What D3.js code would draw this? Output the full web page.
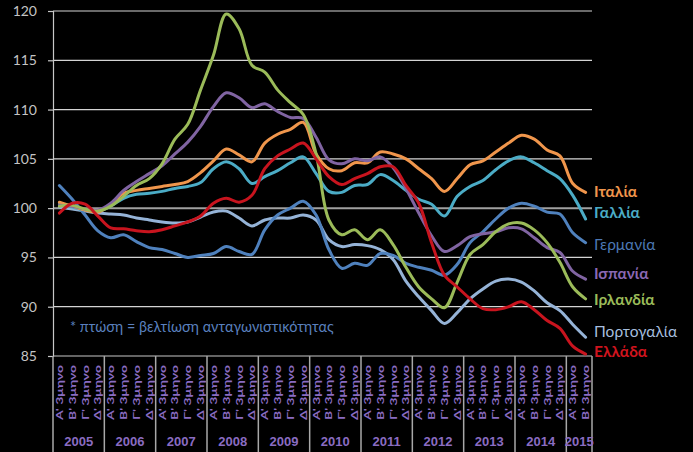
<!DOCTYPE html>
<html>
<head>
<meta charset="utf-8">
<script src="https://cdn.jsdelivr.net/npm/d3@7"></script>
<style>
  html, body { margin: 0; padding: 0; background: #000; }
  svg { display: block; }
</style>
</head>
<body>
<svg id="chart" width="693" height="452"></svg>
<script>
// ---------- DATA ----------
const years = ["2005","2006","2007","2008","2009","2010","2011","2012","2013","2014","2015"];
const quarterNames = ["Α' 3μηνο","Β' 3μηνο","Γ' 3μηνο","Δ' 3μηνο"];
const yTicks = [85, 90, 95, 100, 105, 110, 115, 120];
const note = "* πτώση = βελτίωση ανταγωνιστικότητας";

const seriesNames = ["Πορτογαλία","Γερμανία","Γαλλία","Ιταλία","Ισπανία","Ιρλανδία","Ελλάδα"];

const italy = [100.6,100.2,99.8,99.6,100.4,101.5,101.8,102.0,102.2,102.4,102.7,103.6,104.8,106.0,105.4,104.7,106.6,107.5,108.0,108.7,105.5,104.0,103.8,104.6,104.6,105.7,105.5,105.0,104.0,103.0,101.7,103.0,104.4,104.8,105.7,106.6,107.4,107.0,105.9,105.3,102.5,101.6];
const france = [100.4,100.1,99.8,99.7,100.2,101.0,101.4,101.5,101.7,102.0,102.2,102.6,104.0,104.7,104.0,102.5,103.2,103.8,104.6,105.2,103.5,101.7,101.6,102.3,102.4,103.4,102.8,101.8,100.9,100.4,99.2,101.2,102.2,102.8,103.9,104.8,105.2,104.6,103.8,103.0,101.3,98.9];
const germany = [102.3,100.9,99.3,97.7,97.0,97.3,96.6,96.0,95.8,95.4,95.0,95.2,95.4,96.1,95.6,95.3,97.8,99.3,100.0,100.7,99.3,95.8,93.9,94.4,94.2,95.4,95.2,94.4,94.0,93.7,93.2,94.3,96.5,97.6,98.9,100.0,100.5,100.2,99.6,99.4,97.5,96.5];
const spain = [100.3,100.2,99.9,99.8,100.5,101.8,102.7,103.5,104.3,105.5,106.7,108.3,110.3,111.7,111.2,110.2,110.6,109.8,109.2,109.1,107.2,104.9,104.5,105.0,104.8,105.2,104.1,102.0,99.5,97.2,95.6,96.2,97.1,97.4,97.6,98.0,97.9,97.0,96.0,95.5,93.6,92.8];
const ireland = [100.2,100.3,99.9,99.7,100.2,101.2,102.3,103.0,104.5,107.0,108.5,112.0,115.5,119.7,118.2,114.5,113.8,112.0,110.7,109.5,105.5,98.8,97.3,97.8,96.8,97.8,96.3,94.0,92.0,90.8,89.9,92.5,95.3,96.3,97.6,98.4,98.5,97.8,96.5,94.5,92.0,90.8];
const portugal = [100.1,99.9,99.7,99.5,99.4,99.3,99.0,98.8,98.6,98.5,98.6,99.1,99.6,99.7,99.0,98.2,98.8,99.0,99.0,99.3,98.8,96.8,96.1,96.3,96.2,95.8,94.8,92.6,91.0,89.6,88.3,89.4,90.8,91.8,92.6,92.8,92.5,91.6,90.4,89.6,88.2,86.9];
const greece = [99.5,100.5,100.4,99.2,98.0,97.9,97.7,97.6,97.8,98.2,98.6,99.2,100.5,101.0,100.6,101.3,104.0,105.3,106.0,106.6,105.0,103.2,102.4,103.0,103.5,104.2,104.2,102.3,100.5,96.5,93.2,92.0,90.8,89.8,89.7,90.0,90.5,89.7,88.6,87.8,86.0,85.2];

const seriesValues = [portugal, germany, france, italy, spain, ireland, greece];
const seriesColors = ["#95b3d7","#4f81bd","#4bacc6","#f0964c","#8064a2","#9bbb59","#c8141e"];
const labelColors  = ["#a6bedf","#4c78b4","#4bacc6","#f0964c","#8a68b4","#9bbb59","#d0141e"];
const labelWeights = ["normal","normal","bold","bold","bold","bold","bold"];
const labelValues  = [87.5, 96.3, 99.5, 101.65, 93.4, 90.7, 85.45];

// ---------- BUILD ----------
const categories = [];
years.forEach(yr => quarterNames.forEach(q => categories.push({year: yr, q: q})));
const n = italy.length; // 42 quarters
const cats = categories.slice(0, n);

const svg = d3.select("#chart");
const mLeft = 53, mRight = 592, mTop = 11, mBottom = 356;

const x = d3.scaleBand().domain(d3.range(n)).range([mLeft, mRight]).padding(0);
const y = d3.scaleLinear().domain([85, 120]).range([mBottom, mTop]);

// gridlines
svg.append("g").selectAll("line").data(yTicks.filter(t => t !== 85)).join("line")
  .attr("x1", mLeft).attr("x2", mRight)
  .attr("y1", d => y(d)).attr("y2", d => y(d))
  .attr("stroke", d => d === 100 ? "#a0a0a0" : "#d4d4d4")
  .attr("stroke-width", d => d === 100 ? 2 : 1.2);

// y axis
const yAxis = svg.append("g").attr("transform", `translate(${mLeft},0)`)
  .call(d3.axisLeft(y).tickValues(yTicks).tickSize(5).tickPadding(11).tickFormat(d3.format("d")));
yAxis.select(".domain").attr("stroke", "#c8c8c8").attr("stroke-width", 1.2);
yAxis.selectAll(".tick line").attr("stroke", "#c8c8c8").attr("stroke-width", 1.2);
yAxis.selectAll("text").attr("fill", "#c4c4c4").style("font-family", "Lato, 'Open Sans', sans-serif").style("font-size", "14px");

// x axis baseline
svg.append("line").attr("x1", mLeft).attr("x2", mRight).attr("y1", mBottom).attr("y2", mBottom)
  .attr("stroke", "#c8c8c8").attr("stroke-width", 1.2);

// year separators
const yearStarts = [];
cats.forEach((c, i) => { if (i === 0 || cats[i-1].year !== c.year) yearStarts.push(i); });
const sepX = yearStarts.map(i => x(i)).concat([x(n-1) + x.bandwidth()]);
svg.append("g").selectAll("line").data(sepX).join("line")
  .attr("x1", d => d).attr("x2", d => d).attr("y1", mBottom).attr("y2", 452)
  .attr("stroke", "#a8a8a8").attr("stroke-width", 1.5);

// quarter labels
svg.append("g").selectAll("text").data(cats).join("text")
  .attr("transform", (d, i) => `translate(${x(i) + x.bandwidth()/2 + 3.5},365) rotate(-90)`)
  .attr("text-anchor", "end")
  .attr("fill", "#8a6cc2")
  .attr("textLength", 55)
  .attr("lengthAdjust", "spacingAndGlyphs")
  .style("font-family", "Lato, 'Open Sans', sans-serif")
  .style("font-size", "10px")
  .style("font-weight", "bold")
  .text(d => d.q);

// year labels
const yearGroups = years.map(yr => {
  const idx = cats.map((c, i) => c.year === yr ? i : -1).filter(i => i >= 0);
  return {year: yr, x0: x(idx[0]), x1: x(idx[idx.length-1]) + x.bandwidth()};
}).filter(g => !isNaN(g.x0));
svg.append("g").selectAll("text").data(yearGroups).join("text")
  .attr("x", d => (d.x0 + d.x1) / 2)
  .attr("y", 446)
  .attr("text-anchor", "middle")
  .attr("fill", "#8a6cc2")
  .style("font-family", "'Liberation Sans', Arial, sans-serif")
  .style("font-size", "13px")
  .style("font-weight", "bold")
  .text(d => d.year);

// lines
const line = d3.line()
  .x((d, i) => x(i) + x.bandwidth()/2)
  .y(d => y(d))
  .curve(d3.curveCatmullRom.alpha(0.5));
svg.append("g").selectAll("path").data(seriesValues).join("path")
  .attr("d", d => line(d))
  .attr("fill", "none")
  .attr("stroke", (d, i) => seriesColors[i])
  .attr("stroke-width", 3)
  .attr("stroke-linejoin", "round")
  .attr("stroke-linecap", "round");

// series labels
svg.append("g").selectAll("text").data(seriesNames).join("text")
  .attr("x", 594)
  .attr("y", (d, i) => y(labelValues[i]))
  .attr("dy", "0.35em")
  .attr("fill", (d, i) => labelColors[i])
  .style("font-family", "Lato, 'Open Sans', sans-serif")
  .style("font-size", "15.5px")
  .style("font-weight", (d, i) => labelWeights[i])
  .text(d => d);

// note
svg.append("text")
  .attr("x", 70).attr("y", 327).attr("dy", "0.35em")
  .attr("fill", "#5a80bf")
  .style("font-family", "Lato, 'Open Sans', sans-serif")
  .style("font-size", "14.4px")
  .text(note);
</script>
</body>
</html>
